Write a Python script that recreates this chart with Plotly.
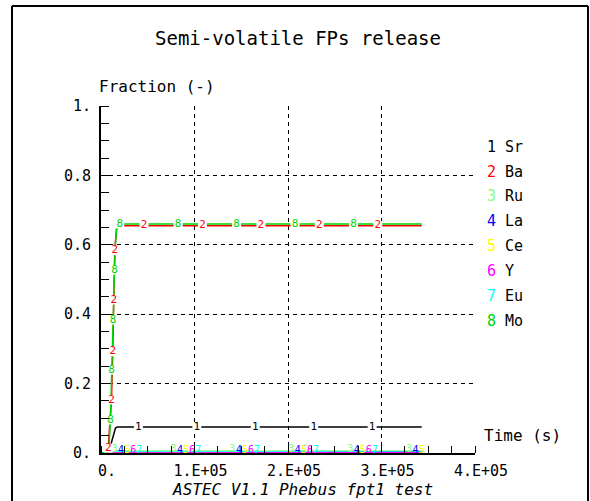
import numpy as np
import plotly.graph_objects as go

# ---------------- data ----------------
NAMES = ["Sr", "Ba", "Ru", "La", "Ce", "Y", "Eu", "Mo"]
NUMS = ["1", "2", "3", "4", "5", "6", "7", "8"]
COLORS = ["#000000", "#ff0000", "#80ff80", "#0000ff", "#ffff00", "#ff00ff", "#00ffff", "#00d400"]

T_SR = [0, 8000, 15500, 17500, 343000]
V_SR = [0, 0, 0.072, 0.075, 0.075]

T_BA = [0, 7000, 7700, 11200, 12600, 13700, 14700, 16500, 19500, 343000]
V_BA = [0, 0, 0.014, 0.153, 0.292, 0.441, 0.583, 0.645, 0.655, 0.655]

T_MO = [0, 8300, 10100, 11200, 13000, 14400, 15500, 17100, 19700, 343000]
V_MO = [0, 0.004, 0.095, 0.239, 0.383, 0.527, 0.605, 0.654, 0.66, 0.66]

T_LOW = [0, 9000, 16000, 343000]
V_RU = [0, 0, 0.006, 0.006]
V_LA = [0, 0, 0.0015, 0.0015]
V_CE = [0, 0, 0.001, 0.001]
V_Y = [0, 0, 0.001, 0.001]
V_EU = [0, 0, 0.003, 0.003]

# curve-label placement (curve index numbers drawn along the curves)
SR_LABEL_T = [40000, 102500, 165000, 227500, 290000]
BA_RISE_LABEL_V = [0.014, 0.153, 0.292, 0.441, 0.583]
BA_FLAT_LABEL_T = [46000, 108500, 171000, 233500, 296000]
MO_RISE_LABEL_V = [0.095, 0.239, 0.383, 0.527]
MO_FLAT_LABEL_T = [20000, 82500, 145000, 207500, 270000]
LOW_LABEL_T0 = [14500, 77500, 140500, 203500, 266500, 329500]
LOW_LABEL_OFFSET = [0, 7000, 13500, 20000, 26500]  # Ru, La, Ce, Y, Eu

X_TICKS = [0, 100000, 200000, 300000, 400000]
X_TICKTEXT = ["0.", "1.E+05", "2.E+05", "3.E+05", "4.E+05"]
Y_TICKS = [0, 0.2, 0.4, 0.6, 0.8, 1.0]
Y_TICKTEXT = ["0.", "0.2", "0.4", "0.6", "0.8", "1."]

FONT = "DejaVu Sans Mono"

# ---------------- figure ----------------
fig = go.Figure()

series = [
    (T_LOW, V_RU, 2), (T_LOW, V_EU, 6), (T_LOW, V_LA, 3), (T_LOW, V_CE, 4), (T_LOW, V_Y, 5),
    (T_SR, V_SR, 0), (T_BA, V_BA, 1), (T_MO, V_MO, 7),
]
for t, v, i in series:
    fig.add_trace(go.Scatter(x=t, y=v, mode="lines", line=dict(color=COLORS[i], width=1.5),
                             showlegend=False, hoverinfo="skip"))


def add_labels(xs, ys, i, bg=True, size=11):
    fig.add_trace(go.Scatter(
        x=xs, y=ys, mode="markers+text" if bg else "text",
        marker=dict(symbol="square", size=9, color="white", line=dict(width=0)),
        text=[NUMS[i]] * len(xs), textposition="middle center",
        textfont=dict(family=FONT, size=size, color=COLORS[i]),
        cliponaxis=False, showlegend=False, hoverinfo="skip"))


# bottom clusters
low_vals = [V_RU, V_LA, V_CE, V_Y, V_EU]
low_idx = [2, 3, 4, 5, 6]
for vals, idx, off in zip(low_vals, low_idx, LOW_LABEL_OFFSET):
    xs = [t0 + off for t0 in LOW_LABEL_T0 if t0 + off <= T_LOW[-1]]
    ys = list(np.interp(xs, T_LOW, vals) + 0.005)
    add_labels(xs, ys, idx, bg=False, size=10)

# Sr
add_labels(SR_LABEL_T, list(np.interp(SR_LABEL_T, T_SR, V_SR)), 0)


def rise_then_flat(T, V, rise_v, flat_t):
    n = int(np.argmax(np.array(V) >= max(V) - 1e-9))
    xs = list(np.interp(rise_v, V[:n + 1], T[:n + 1])) + list(flat_t)
    ys = list(rise_v) + list(np.interp(flat_t, T, V))
    return xs, ys


bx, by = rise_then_flat(T_BA, V_BA, BA_RISE_LABEL_V, BA_FLAT_LABEL_T)
add_labels(bx, by, 1)
mx, my = rise_then_flat(T_MO, V_MO, MO_RISE_LABEL_V, MO_FLAT_LABEL_T)
add_labels(mx, my, 7)

# ---------------- layout ----------------
L, R, T, B = 101, 115, 106, 48
W, H = 590, 501
PW, PH = W - L - R, H - T - B


def px(xp):
    return (xp - L) / PW


def py(yp):
    return (H - B - yp) / PH


axis_common = dict(
    showgrid=True, gridcolor="black", gridwidth=1, griddash="4px,4px",
    showline=True, linecolor="black", linewidth=2, zeroline=False,
    ticks="", tickfont=dict(family=FONT, size=15, color="black"),
    layer="above traces",
)
fig.update_xaxes(range=[0, 400000], tickmode="array", tickvals=X_TICKS, ticktext=X_TICKTEXT,
                 ticklabelshift=6, ticklabelstandoff=3,
                 minor=dict(ticks="inside", ticklen=7, tickcolor="black", tickwidth=1,
                            dtick=25000, tick0=0, showgrid=False),
                 **axis_common)
fig.update_yaxes(range=[0, 1], tickmode="array", tickvals=Y_TICKS, ticktext=Y_TICKTEXT,
                 ticklabelstandoff=5,
                 minor=dict(ticks="inside", ticklen=8, tickcolor="black", tickwidth=1,
                            dtick=0.05, tick0=0, showgrid=False),
                 **axis_common)

ann = []
ann.append(dict(text="Semi-volatile FPs release", x=px(298), y=py(38), xref="paper", yref="paper",
                xanchor="center", yanchor="middle", showarrow=False,
                font=dict(family=FONT, size=19, color="black")))
ann.append(dict(text="Fraction (-)", x=px(97), y=py(86.5), xref="paper", yref="paper",
                xanchor="left", yanchor="middle", showarrow=False,
                font=dict(family=FONT, size=16, color="black")))
ann.append(dict(text="Time (s)", x=px(482), y=py(435), xref="paper", yref="paper",
                xanchor="left", yanchor="middle", showarrow=False,
                font=dict(family=FONT, size=16, color="black")))
ann.append(dict(text="<i>ASTEC V1.1 Phebus fpt1 test</i>", x=px(302), y=py(489), xref="paper", yref="paper",
                xanchor="center", yanchor="middle", showarrow=False,
                font=dict(family=FONT, size=16, color="black")))
for k, (n, name, c) in enumerate(zip(NUMS, NAMES, COLORS)):
    ann.append(dict(text=f"<span style='color:{c}'>{n}</span> {name}",
                    x=px(485), y=py(146.7 + k * 24.85), xref="paper", yref="paper",
                    xanchor="left", yanchor="middle", showarrow=False,
                    font=dict(family=FONT, size=15, color="black")))

shapes = [
    dict(type="line", xref="paper", yref="paper", x0=px(12), x1=px(12), y0=py(6), y1=py(505),
         line=dict(color="black", width=2)),
    dict(type="line", xref="paper", yref="paper", x0=px(12), x1=px(588), y0=py(6), y1=py(6),
         line=dict(color="black", width=2)),
    dict(type="line", xref="paper", yref="paper", x0=px(588), x1=px(588), y0=py(6), y1=py(505),
         line=dict(color="black", width=2)),
]

fig.update_layout(
    width=W, height=H, margin=dict(l=L, r=R, t=T, b=B),
    paper_bgcolor="white", plot_bgcolor="white",
    annotations=ann, shapes=shapes, showlegend=False,
    font=dict(family=FONT, color="black"),
)

fig.write_html("out.html")
